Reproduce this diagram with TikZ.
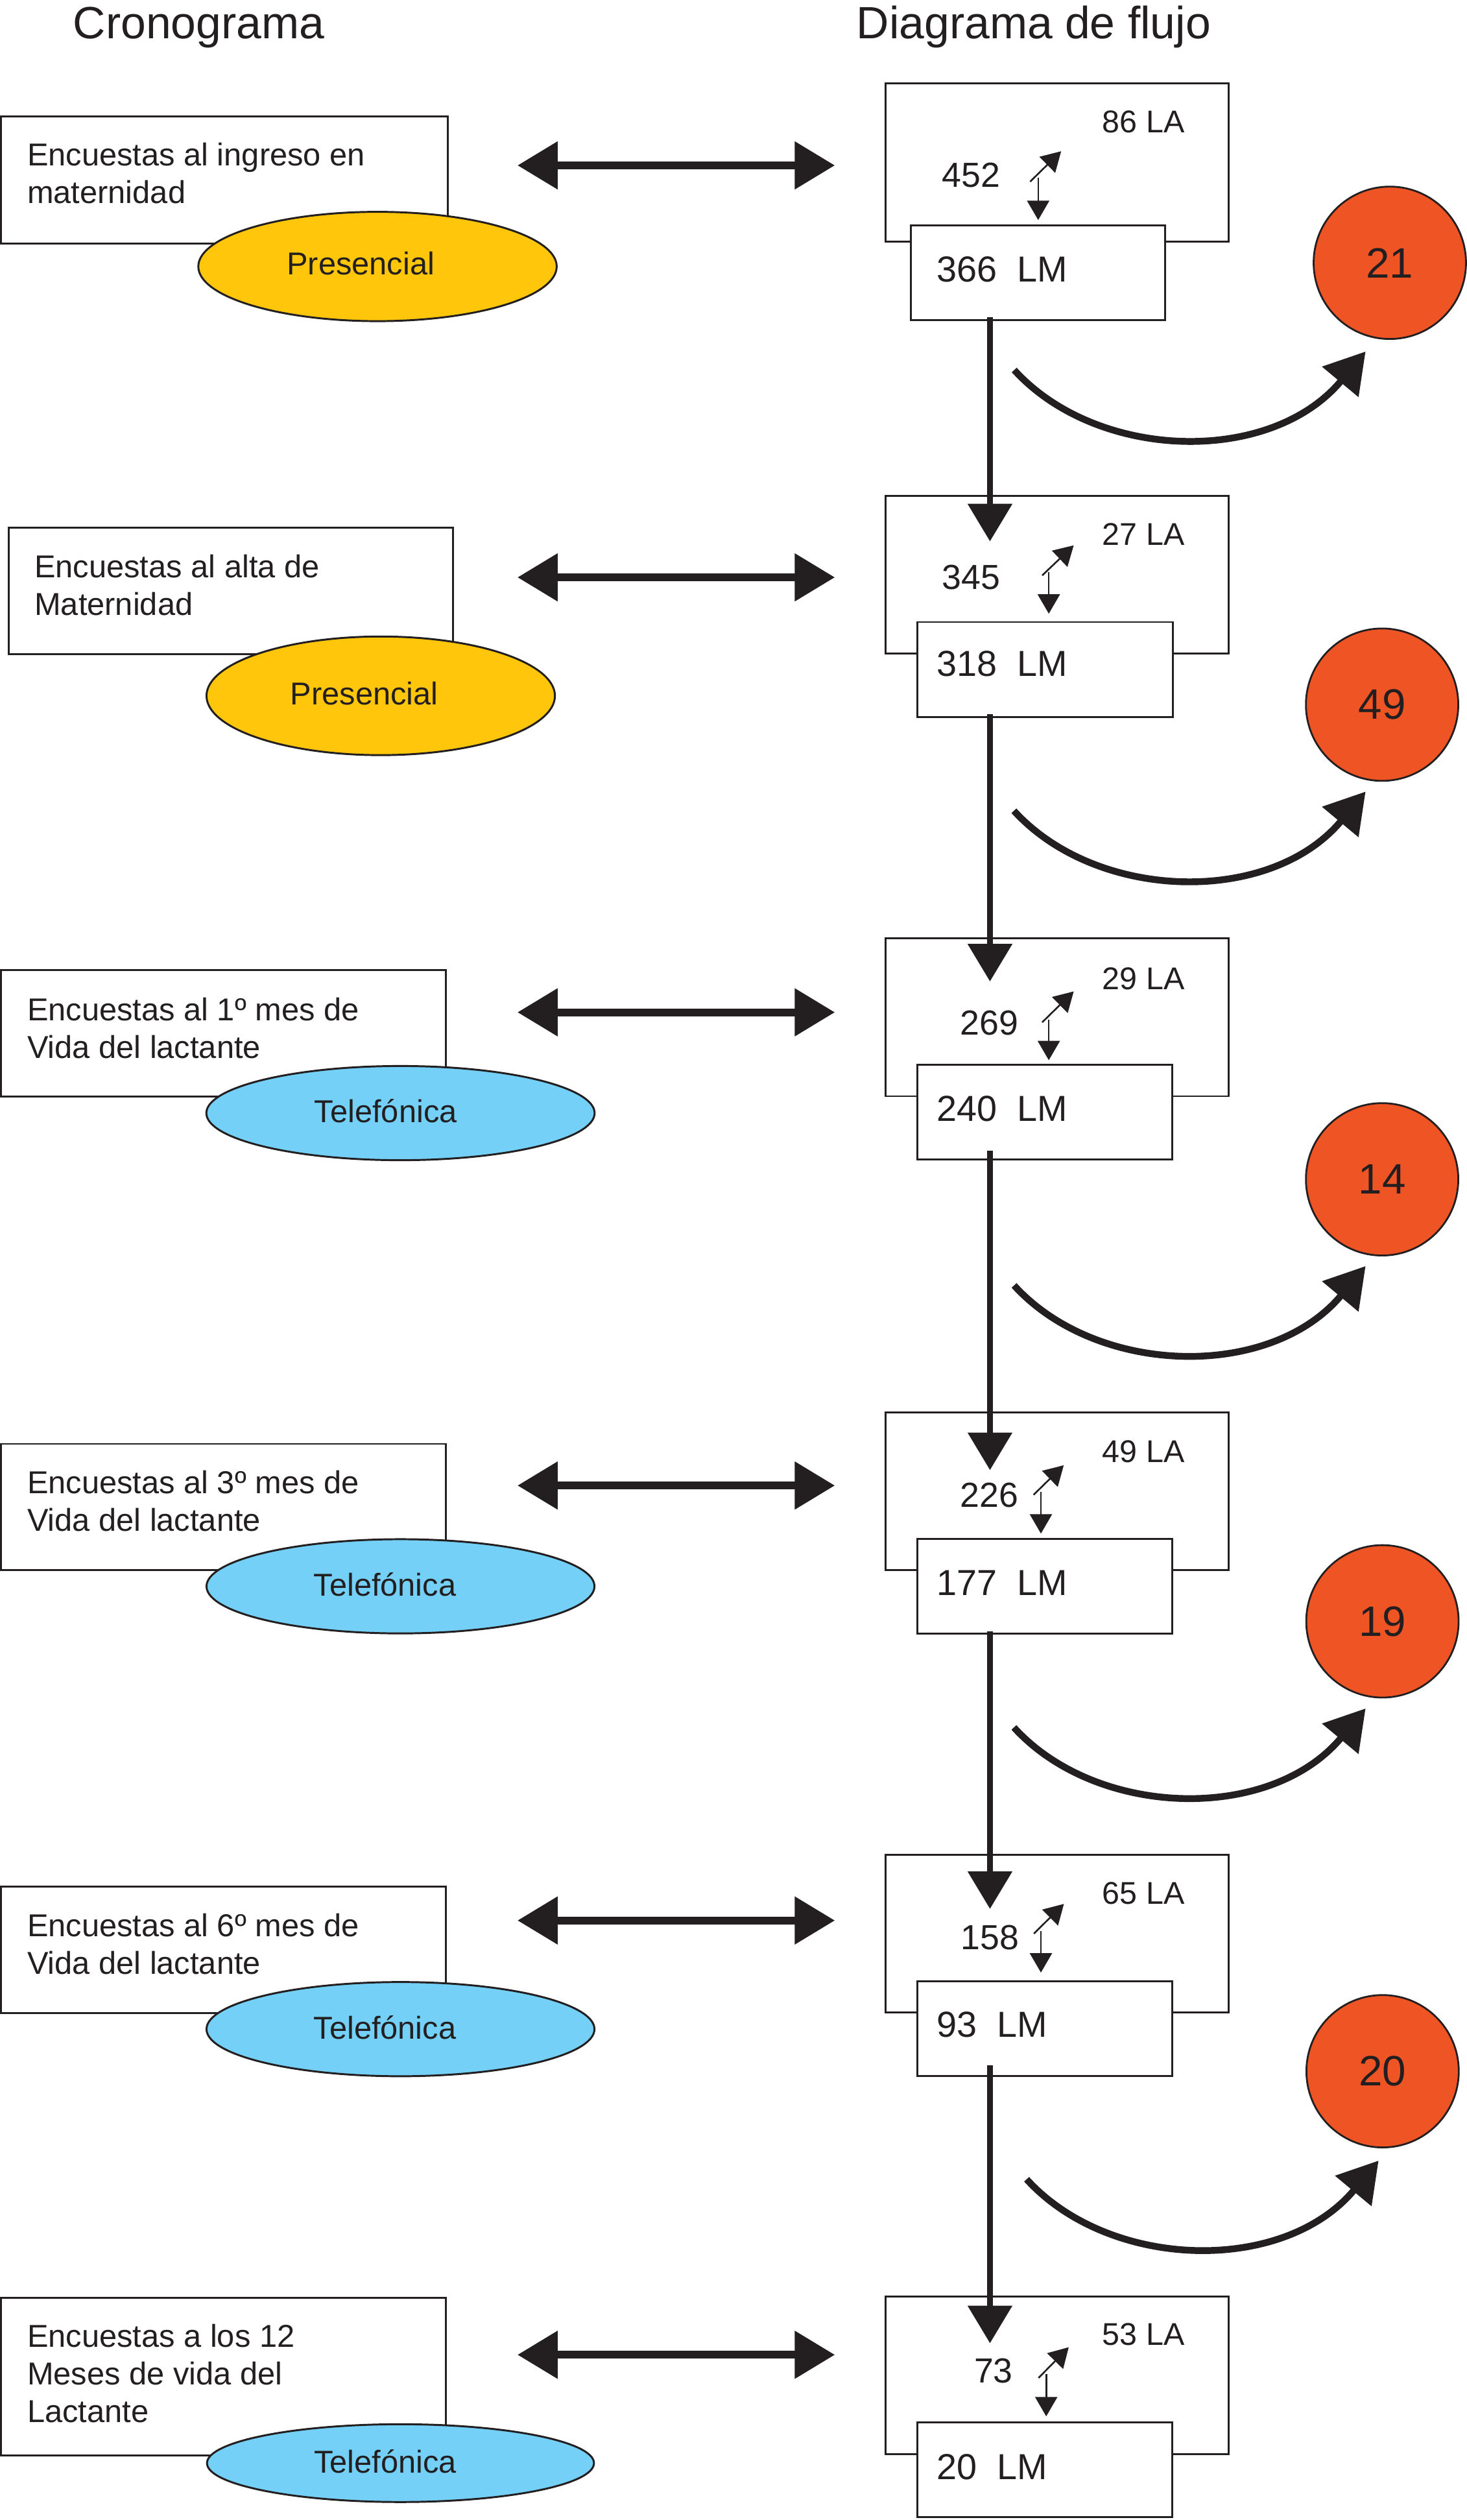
\documentclass[tikz,border=0pt]{standalone}
\usepackage{fontspec}
\setmainfont{Liberation Sans}
\usetikzlibrary{arrows.meta,shapes.geometric}
\definecolor{ink}{HTML}{231F20}
\definecolor{yel}{HTML}{FFC60B}
\definecolor{sky}{HTML}{74D0F6}
\definecolor{dropred}{HTML}{EF5424}
\newcommand{\du}{0.025cm}
\begin{document}
\begin{tikzpicture}[x=0.025cm,y=-0.025cm,
  every node/.style={inner sep=0pt, outer sep=0pt, text=ink},
  title/.style={anchor=base west, font=\fontsize{20pt}{24pt}\selectfont},
  lbox/.style={draw=ink, line width=0.85pt, fill=white, anchor=north west},
  ltext/.style={anchor=base west, align=left, font=\fontsize{14pt}{16.7pt}\selectfont},
  oval/.style={ellipse, draw=ink, line width=0.85pt},
  ovaltext/.style={anchor=base, font=\fontsize{14pt}{16.7pt}\selectfont},
  numtext/.style={anchor=base, font=\fontsize{15.4pt}{18pt}\selectfont},
  latext/.style={anchor=base west, font=\fontsize{13.9pt}{16pt}\selectfont},
  lmtext/.style={anchor=base west, font=\fontsize{16pt}{18pt}\selectfont},
  drop/.style={circle, draw=ink, line width=0.8pt, fill=dropred, minimum size=94.8*\du, font=\fontsize{18.8pt}{22pt}\selectfont},
  dblarr/.style={draw=ink, line width=3.5pt, {Triangle[length=17.8pt,width=20.4pt]}-{Triangle[length=17.8pt,width=20.4pt]}},
  flowarr/.style={draw=ink, line width=2.5pt, -{Triangle[length=16.6pt,width=19.2pt]}},
  droparr/.style={draw=ink, line width=3pt, -{Triangle[length=17.5pt,width=20.3pt]}},
  smallarr/.style={draw=ink, line width=0.75pt, -{Triangle[length=8.6pt,width=9.8pt]}}
]
\useasboundingbox (0,0) rectangle (912.8,1567.8);

% titles
\node[title] (tcrono) at (45.5,24.2) {Cronograma};
\node[title] (tflujo) at (533,24.2) {Diagrama de flujo};

% ---------------- left column ----------------
% (the base anchor of a multi-line node is the baseline of its last line)
\node[lbox, minimum width=277.9*\du, minimum height=79.1*\du] (L1) at (0.6,72.6) {};
\node[ltext] (L1t) at (17,126.4) {Encuestas al ingreso en\\maternidad};
\node[oval, fill=yel, minimum width=223*\du, minimum height=68*\du] (E1) at (234.9,165.8) {};
\node[ovaltext] (E1t) at (224.5,171) {Presencial};

\node[lbox, minimum width=276.6*\du, minimum height=78.6*\du] (L2) at (5.4,328.4) {};
\node[ltext] (L2t) at (21.5,382.7) {Encuestas al alta de\\Maternidad};
\node[oval, fill=yel, minimum width=216.8*\du, minimum height=73.8*\du] (E2) at (236.9,432.9) {};
\node[ovaltext] (E2t) at (226.7,438.3) {Presencial};

\node[lbox, minimum width=276.7*\du, minimum height=78.8*\du] (L3) at (0.6,603.4) {};
\node[ltext] (L3t) at (17,658.3) {Encuestas al 1º mes de\\Vida del lactante};
\node[oval, fill=sky, minimum width=241.6*\du, minimum height=58.6*\du] (E3) at (249.2,692.5) {};
\node[ovaltext] (E3t) at (240,698.5) {Telefónica};

\node[lbox, minimum width=276.7*\du, minimum height=78.6*\du] (L4) at (0.6,898.3) {};
\node[ltext] (L4t) at (17,952.6) {Encuestas al 3º mes de\\Vida del lactante};
\node[oval, fill=sky, minimum width=241.4*\du, minimum height=58.6*\du] (E4) at (249.2,986.9) {};
\node[ovaltext] (E4t) at (239.5,992.9) {Telefónica};

\node[lbox, minimum width=276.7*\du, minimum height=78.6*\du] (L5) at (0.6,1173.8) {};
\node[ltext] (L5t) at (17,1228.2) {Encuestas al 6º mes de\\Vida del lactante};
\node[oval, fill=sky, minimum width=241.4*\du, minimum height=58.6*\du] (E5) at (249.2,1262.4) {};
\node[ovaltext] (E5t) at (239.5,1268.4) {Telefónica};

\node[lbox, minimum width=276.7*\du, minimum height=98*\du] (L6) at (0.6,1429.5) {};
\node[ltext] (L6t) at (17,1507) {Encuestas a los 12\\Meses de vida del\\Lactante};
\node[oval, fill=sky, minimum width=240.8*\du, minimum height=48.4*\du] (E6) at (249.2,1532.4) {};
\node[ovaltext] (E6t) at (239.7,1538.6) {Telefónica};

% ---------------- double arrows ----------------
\coordinate (dl1) at (322,102.9);  \coordinate (dr1) at (519.5,102.9);
\coordinate (dl2) at (322,359.2);  \coordinate (dr2) at (519.5,359.2);
\coordinate (dl3) at (322,629.8);  \coordinate (dr3) at (519.5,629.8);
\coordinate (dl4) at (322,924.2);  \coordinate (dr4) at (519.5,924.2);
\coordinate (dl5) at (322,1194.8); \coordinate (dr5) at (519.5,1194.8);
\coordinate (dl6) at (322,1465);   \coordinate (dr6) at (519.5,1465);
\foreach \i in {1,...,6} {\draw[dblarr] (dl\i) -- (dr\i);}

% ---------------- right column: boxes ----------------
\node[lbox, minimum width=213.5*\du, minimum height=98.7*\du] (O1) at (551,51.8) {};
\node[lbox, minimum width=158.4*\du, minimum height=58.6*\du] (I1) at (566.6,140.4) {};
\node[numtext] (n1) at (604.3,116.6) {452};
\node[latext] (la1) at (686,82.6) {86 LA};
\node[lmtext] (lm1) at (583,175.2) {366~~LM};

\node[lbox, minimum width=213.5*\du, minimum height=98.1*\du] (O2) at (551,308.4) {};
\node[lbox, minimum width=159*\du, minimum height=59.1*\du] (I2) at (571,387) {};
\node[numtext] (n2) at (604.3,366.5) {345};
\node[latext] (la2) at (686,339.3) {27 LA};
\node[lmtext] (lm2) at (583,420.9) {318~~LM};

\node[lbox, minimum width=213.5*\du, minimum height=98.4*\du] (O3) at (551,583.6) {};
\node[lbox, minimum width=158.6*\du, minimum height=58.9*\du] (I3) at (571,662.6) {};
\node[numtext] (n3) at (615.7,643.7) {269};
\node[latext] (la3) at (686,615.8) {29 LA};
\node[lmtext] (lm3) at (583,697.7) {240~~LM};

\node[lbox, minimum width=213.5*\du, minimum height=98.1*\du] (O4) at (551,878.8) {};
\node[lbox, minimum width=158.6*\du, minimum height=59.1*\du] (I4) at (571,957.3) {};
\node[numtext] (n4) at (615.5,937.6) {226};
\node[latext] (la4) at (686,909.6) {49 LA};
\node[lmtext] (lm4) at (583,992.4) {177~~LM};

\node[lbox, minimum width=213.5*\du, minimum height=98.1*\du] (O5) at (551,1153.9) {};
\node[lbox, minimum width=158.6*\du, minimum height=58.9*\du] (I5) at (571,1232.7) {};
\node[numtext] (n5) at (616,1213) {158};
\node[latext] (la5) at (686,1184.8) {65 LA};
\node[lmtext] (lm5) at (583,1267.4) {93~~LM};

\node[lbox, minimum width=213.5*\du, minimum height=98.4*\du] (O6) at (551,1428.6) {};
\node[lbox, minimum width=158.6*\du, minimum height=59*\du] (I6) at (571,1507) {};
\node[numtext] (n6) at (618.2,1482.3) {73};
\node[latext] (la6) at (686,1459) {53 LA};
\node[lmtext] (lm6) at (583,1542.4) {20~~LM};

% small arrows inside boxes
\coordinate (v1s) at (646,110.6);   \coordinate (v1e) at (646,136.9);
\coordinate (g1s) at (641,113);     \coordinate (g1e) at (660.3,94.1);
\coordinate (v2s) at (652.6,355.9); \coordinate (v2e) at (652.6,381.8);
\coordinate (g2s) at (648.5,358);   \coordinate (g2e) at (668.1,339.3);
\coordinate (v3s) at (652.6,634.2); \coordinate (v3e) at (652.6,659.6);
\coordinate (g3s) at (648.5,636);   \coordinate (g3e) at (668.1,616.8);
\coordinate (v4s) at (647.7,928.2); \coordinate (v4e) at (647.7,954.1);
\coordinate (g4s) at (643.1,930);   \coordinate (g4e) at (661.9,911.6);
\coordinate (v5s) at (647.7,1201.4);\coordinate (v5e) at (647.7,1227.2);
\coordinate (g5s) at (643.3,1203);  \coordinate (g5e) at (662,1184.5);
\coordinate (v6s) at (651,1476.9);  \coordinate (v6e) at (651,1503.3);
\coordinate (g6s) at (646.2,1479.4);\coordinate (g6e) at (665,1460.3);
\foreach \i in {1,...,6} {
  \draw[smallarr] (v\i s) -- (v\i e);
  \draw[smallarr] (g\i s) -- (g\i e);
}

% ---------------- vertical flow connectors ----------------
\coordinate (f1s) at (616,197.5);  \coordinate (f1e) at (616,336.8);
\coordinate (f2s) at (616,444.3);  \coordinate (f2e) at (616,610.6);
\coordinate (f3s) at (616,716);    \coordinate (f3e) at (616,914.6);
\coordinate (f4s) at (616,1015);   \coordinate (f4e) at (616,1187.6);
\coordinate (f5s) at (616,1285);   \coordinate (f5e) at (616,1457.8);
\foreach \i in {1,...,5} {\draw[flowarr] (f\i s) -- (f\i e);}

% ---------------- drop-out circles ----------------
\node[drop] (C1) at (864.8,163.5) {21};
\node[drop] (C2) at (860,438.4) {49};
\node[drop] (C3) at (860,733.7) {14};
\node[drop] (C4) at (860.2,1008.7) {19};
\node[drop] (C5) at (860.3,1288.6) {20};

\coordinate (s1) at (631.1,230.2);  \coordinate (e1) at (849.7,218.7);
\coordinate (s2) at (630.9,504.4);  \coordinate (e2) at (849.7,492.5);
\coordinate (s3) at (631,799.7);    \coordinate (e3) at (849.7,787.7);
\coordinate (s4) at (630.9,1074.7); \coordinate (e4) at (849.7,1062.9);
\coordinate (s5) at (638.8,1355.8); \coordinate (e5) at (857.8,1344.2);
\foreach \i in {1,...,5} {\draw[droparr] (s\i) .. controls +(51.5,56.6) and +(-59.2,71) .. (e\i);}
\end{tikzpicture}
\end{document}
